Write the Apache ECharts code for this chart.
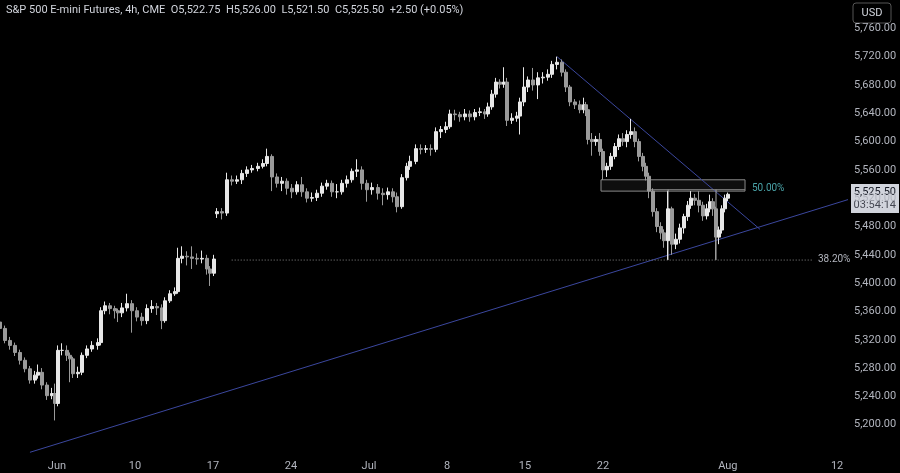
<!DOCTYPE html>
<html><head><meta charset="utf-8">
<script src="https://cdn.jsdelivr.net/npm/echarts@6/dist/echarts.min.js"></script>
<style>html,body{margin:0;background:#000;}#c{width:900px;height:473px;}</style>
</head><body><div id="c"></div>
<script>
// bar positions in trading days from Mon Jun 3
const times=[-3.65,-3.33,-3.01,-2.69,-2.37,-2.05,-1.73,-1.41,-1.22,-0.96,-0.64,-0.32,-0.13,
0.06,0.32,0.64,0.83,1.03,1.35,1.60,1.92,2.24,2.63,
2.82,3.08,3.40,3.72,3.91,4.17,4.49,4.81,5.13,5.45,5.77,6.09,6.41,6.73,
6.92,7.24,7.56,7.76,8.01,8.33,8.65,8.97,9.29,9.62,9.81,10.06,
10.26,10.58,10.90,11.22,11.54,11.86,12.18,12.50,12.88,13.21,13.46,
13.78,14.10,14.42,14.74,15.06,15.38,15.71,16.03,16.35,16.67,16.99,17.31,17.63,17.95,18.27,18.59,18.91,19.23,19.55,19.87,20.19,20.58,20.90,21.22,21.54,21.79,22.12,22.44,
22.63,23.01,23.33,23.65,23.97,24.29,24.62,24.94,25.19,25.51,25.83,26.15,26.47,26.79,27.12,27.44,27.63,27.88,28.14,28.40,28.65,28.85,29.17,29.49,29.68,29.94,30.19,30.51,30.83,31.15,31.47,31.73,32.05,32.37,32.63,32.88,33.21,33.53,33.78,33.91,
34.04,34.29,34.55,34.81,35.00,35.26,35.51,35.77,36.03,36.28,36.54,36.79,37.05,37.31,37.56,37.76,37.95,38.21,38.46,38.72,38.91,39.17,39.42,39.68,39.94,40.19,40.45,40.64,40.90,41.15,41.41,41.67,41.86,42.05,42.24,42.44,42.63,42.82,43.01];
const closes=[5336,5319,5312,5302,5291,5279,5263,5270,5274,5256,5241,5244,5230,
5305,5305,5298,5293,5272,5274,5298,5307,5312,5316,
5361,5368,5364,5361,5358,5365,5371,5361,5352,5347,5364,5367,5365,5347,
5375,5385,5388,5435,5438,5437,5435,5434,5435,5420,5414,5434,
5501,5499,5546,5544,5546,5555,5560,5562,5565,5569,5579,
5550,5541,5544,5534,5529,5539,5529,5520,5521,5527,5537,5541,5529,5529,5541,5546,5558,5560,5541,5532,5535,5527,5525,5529,5522,5508,5549,5565,
5572,5590,5589,5590,5589,5614,5617,5621,5639,5638,5635,5639,5635,5641,5642,5639,5649,5667,5684,5681,5684,5630,5633,5636,5656,5677,5687,5680,5690,5691,5695,5709,5712,5698,5677,5656,5652,5645,5652,5645,
5603,5600,5603,5586,5560,5565,5579,5593,5604,5600,5610,5614,5600,5579,5565,5551,5530,5501,5480,5471,5460,5505,5455,5462,5478,5494,5510,5520,5517,5510,5495,5505,5515,5505,5465,5475,5505,5520,5525.5];
const opens=[5345,5336,5319,5312,5302,5291,5279,5263,5270,5274,5256,5241,5244,
5230,5305,5305,5298,5293,5272,5274,5298,5307,5312,
5316,5361,5368,5364,5361,5358,5365,5371,5361,5352,5347,5364,5367,5365,
5347,5375,5385,5388,5435,5438,5437,5435,5434,5435,5420,5414,
5498,5501,5499,5546,5544,5546,5555,5560,5562,5565,5569,
5579,5550,5541,5544,5534,5529,5539,5529,5520,5521,5527,5537,5541,5529,5529,5541,5546,5558,5560,5541,5532,5535,5527,5525,5529,5522,5508,5549,
5565,5572,5590,5589,5590,5589,5614,5617,5621,5639,5638,5635,5639,5635,5641,5642,5639,5649,5667,5684,5681,5684,5630,5633,5636,5656,5677,5687,5680,5690,5691,5695,5709,5712,5698,5677,5656,5652,5645,5652,
5645,5603,5600,5603,5586,5560,5565,5579,5593,5604,5600,5610,5614,5600,5579,5565,5551,5530,5501,5480,5471,5460,5505,5455,5462,5478,5494,5510,5520,5517,5510,5495,5505,5515,5505,5465,5475,5505,5520];
const highs=[5350,5340,5324,5316,5306,5295,5283,5276,5285,5280,5260,5252,5258,
5312,5315,5312,5302,5296,5282,5302,5312,5318,5322,
5366,5374,5372,5368,5364,5372,5385,5376,5366,5358,5370,5376,5372,5370,
5380,5390,5394,5450,5452,5445,5452,5442,5446,5440,5424,5440,
5506,5506,5556,5552,5552,5560,5565,5567,5570,5575,5590,
5582,5555,5550,5548,5540,5544,5550,5534,5528,5532,5542,5546,5545,5540,5546,5552,5562,5575,5565,5546,5542,5540,5534,5535,5534,5528,5554,5570,
5580,5596,5596,5595,5596,5620,5622,5628,5645,5645,5642,5646,5644,5646,5648,5646,5655,5673,5690,5688,5705,5690,5640,5642,5662,5705,5692,5704,5698,5698,5702,5714,5720,5716,5702,5680,5660,5658,5662,5656,
5650,5612,5608,5612,5590,5570,5584,5598,5610,5612,5616,5632,5620,5604,5584,5570,5556,5534,5506,5486,5476,5530,5508,5470,5484,5498,5516,5530,5526,5530,5515,5512,5525,5520,5508,5480,5510,5525,5528];
const lows=[5330,5315,5306,5297,5285,5274,5258,5258,5265,5250,5235,5236,5206,
5226,5298,5290,5260,5266,5266,5270,5294,5303,5306,
5312,5356,5356,5350,5345,5352,5360,5330,5346,5340,5342,5358,5355,5335,
5344,5372,5382,5385,5428,5425,5420,5426,5428,5412,5396,5410,
5492,5490,5495,5538,5540,5540,5550,5556,5558,5562,5565,
5530,5535,5530,5525,5520,5525,5522,5514,5515,5516,5522,5532,5522,5520,5525,5535,5542,5550,5532,5515,5525,5518,5510,5518,5514,5500,5505,5545,
5560,5568,5582,5584,5580,5585,5605,5612,5618,5630,5628,5630,5628,5630,5636,5632,5635,5645,5662,5675,5676,5622,5625,5628,5610,5650,5670,5672,5660,5682,5686,5690,5702,5692,5670,5650,5646,5640,5640,5636,
5596,5580,5594,5580,5546,5550,5560,5575,5588,5594,5592,5604,5592,5572,5558,5545,5520,5494,5472,5462,5450,5433,5440,5448,5456,5470,5488,5505,5510,5500,5488,5490,5500,5495,5433,5455,5470,5500,5516];
const xTickValues=[0,5,10,15,20,25,30,35,43,50];
const xTickLabels=['Jun','10','17','24','Jul','8','15','22','Aug','12'];
const trendUp=[[-1.73,5161],[50.7,5518]];
const trendDown=[[32.05,5720],[45.06,5476]];
const fib382=5432.6, fib50=5532;
const zoneTop=5546, zoneBottom=5530;

const candles=times.map((t,i)=>[t,opens[i],closes[i],lows[i],highs[i]]);
const labelMap={};xTickValues.forEach((v,i)=>labelMap[v]=xTickLabels[i]);
const fmt=v=>v.toLocaleString('en-US',{minimumFractionDigits:2,maximumFractionDigits:2});
const axisTxt='#b2b5be';
const chart=echarts.init(document.getElementById('c'));
chart.setOption({
 backgroundColor:'#000',animation:false,
 grid:{left:0,right:52,top:-2,bottom:20},
 xAxis:{type:'value',min:-3.65,max:50.7,axisLine:{show:false},axisTick:{show:false},splitLine:{show:false},
  axisLabel:{customValues:xTickValues,formatter:v=>labelMap[v]||'',color:axisTxt,fontSize:11,fontFamily:'Roboto',margin:8}},
 yAxis:{type:'value',position:'right',min:5160,max:5800,interval:40,scale:true,
  axisLine:{show:false},axisTick:{show:false},splitLine:{show:false},
  axisLabel:{showMinLabel:false,showMaxLabel:false,formatter:fmt,color:axisTxt,fontSize:11,fontFamily:'Roboto',margin:6}},
 series:[
  {type:'candlestick',data:candles,encode:{x:0,y:[1,2,3,4]},barWidth:3,
   itemStyle:{color:'#e8e8e8',color0:'#9a9a9a',borderColor:'#e8e8e8',borderColor0:'#9a9a9a',borderWidth:1},
   markArea:{silent:true,itemStyle:{color:'rgba(16,16,16,0.9)',borderColor:'#8a8a8a',borderWidth:1},
     data:[[{xAxis:34.87,yAxis:zoneTop},{xAxis:44.1,yAxis:zoneBottom}]]}},
  {type:'line',data:trendUp,symbol:'none',lineStyle:{color:'#3b479e',width:1},z:1},
  {type:'line',data:trendDown,symbol:'none',lineStyle:{color:'#3b479e',width:1},z:1},
  {type:'line',data:[[11.2,fib382],[48.5,fib382]],symbol:'none',lineStyle:{color:'#888',width:1,type:[1,2]},z:1},
  {type:'line',data:[[37.8,fib50],[44.1,fib50]],symbol:'none',lineStyle:{color:'#888',width:1},z:1},
  {type:'line',data:[[39.17,fib50],[39.17,fib382]],symbol:'none',lineStyle:{color:'#aaa',width:1},z:1},
  {type:'line',data:[[42.24,fib50],[42.24,fib382]],symbol:'none',lineStyle:{color:'#aaa',width:1},z:1}
 ],
 graphic:[
  {type:'text',left:6,top:5,style:{text:'S&P 500 E-mini Futures, 4h, CME  O5,522.75  H5,526.00  L5,521.50  C5,525.50  +2.50 (+0.05%)',fill:'#d1d4dc',fontSize:11,fontFamily:'Roboto'}},
  {type:'rect',shape:{x:853,y:3,width:38,height:20,r:3},style:{fill:'#000',stroke:'#555',lineWidth:1}},
  {type:'text',x:872,y:13,style:{text:'USD',fill:'#d1d4dc',fontSize:11,fontFamily:'Roboto',align:'center',verticalAlign:'middle'}},
  {type:'rect',shape:{x:851,y:184,width:48,height:29},style:{fill:'#d1d4dc'}},
  {type:'text',x:896,y:192,style:{text:'5,525.50',fill:'#131722',fontSize:11,fontFamily:'Roboto',align:'right',verticalAlign:'middle'}},
  {type:'text',x:896,y:205,style:{text:'03:54:14',fill:'#434651',fontSize:11,fontFamily:'Roboto',align:'right',verticalAlign:'middle'}},
  {type:'text',x:752,y:188,style:{text:'50.00%',fill:'#4aa3a8',fontSize:10,fontFamily:'Roboto',verticalAlign:'middle'}},
  {type:'text',x:818,y:259,style:{text:'38.20%',fill:'#b2b5be',fontSize:10,fontFamily:'Roboto',verticalAlign:'middle'}}
 ]
});
</script></body></html>
